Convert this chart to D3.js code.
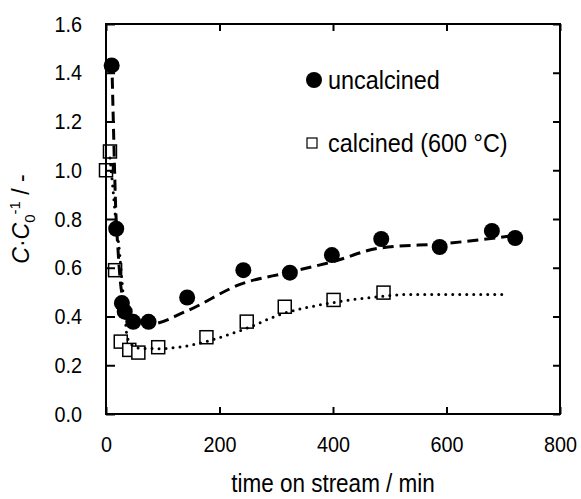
<!DOCTYPE html>
<html>
<head>
<meta charset="utf-8">
<script src="https://cdn.jsdelivr.net/npm/d3@7"></script>
<style>
  body { margin: 0; background: #fff; }
  text { font-family: "Liberation Sans", Arial, sans-serif; fill: #000; }
</style>
</head>
<body>
<div id="wrapper"></div>
<script>
// measured points [time on stream / min, C/C0]
const uncalcined = [
  [10, 1.43], [18, 0.76], [28, 0.455], [33, 0.42], [48, 0.378], [75, 0.378],
  [143, 0.478], [242, 0.59], [324, 0.58], [398, 0.652], [485, 0.718],
  [588, 0.685], [680, 0.751], [721, 0.722]
];
const calcined = [
  [0, 1.0], [7, 1.077], [16, 0.59], [26, 0.297], [41, 0.263], [57, 0.252],
  [92, 0.274], [177, 0.315], [248, 0.379], [315, 0.44], [401, 0.468], [489, 0.498]
];

// fitted curves
const uncalcinedFit = [
  [11, 1.38], [14, 1.1], [17, 0.85], [21, 0.68], [25, 0.55], [30, 0.47],
  [38, 0.41], [55, 0.375], [80, 0.37], [140, 0.42], [240, 0.535], [320, 0.58],
  [400, 0.625], [480, 0.68], [600, 0.70], [712, 0.73]
];
const calcinedFit = [
  [7, 1.05], [12, 0.93], [17, 0.8], [24, 0.66], [28, 0.55], [33, 0.42],
  [37, 0.32], [45, 0.285], [60, 0.27], [95, 0.268], [130, 0.275], [240, 0.345],
  [312, 0.412], [395, 0.455], [483, 0.482], [530, 0.49], [700, 0.49]
];

const xTicks = [0, 200, 400, 600, 800];
const yTicks = [0, 0.2, 0.4, 0.6, 0.8, 1.0, 1.2, 1.4, 1.6];
const legendLabels = ["uncalcined", "calcined (600 °C)"];
const xTitle = "time on stream / min";

const xAccessor = (d) => d[0];
const yAccessor = (d) => d[1];

let dimensions = {
  width: 581,
  height: 499,
  margin: { top: 24, right: 21, bottom: 85, left: 106 }
};
dimensions.boundedWidth = dimensions.width - dimensions.margin.left - dimensions.margin.right;
dimensions.boundedHeight = dimensions.height - dimensions.margin.top - dimensions.margin.bottom;

const squeeze = 0.9; // text in the original looks horizontally narrowed

const wrapper = d3.select("#wrapper")
  .append("svg")
  .attr("width", dimensions.width)
  .attr("height", dimensions.height);

const bounds = wrapper.append("g")
  .attr("transform", `translate(${dimensions.margin.left},${dimensions.margin.top})`);

const xScale = d3.scaleLinear()
  .domain([0, 800])
  .range([0, dimensions.boundedWidth]);

const yScale = d3.scaleLinear()
  .domain([0, 1.6])
  .range([dimensions.boundedHeight, 0]);

// markers
bounds.append("g")
  .selectAll("circle")
  .data(uncalcined)
  .join("circle")
  .attr("cx", (d) => xScale(xAccessor(d)))
  .attr("cy", (d) => yScale(yAccessor(d)))
  .attr("r", 8)
  .attr("fill", "#000");

const sq = 13;
bounds.append("g")
  .selectAll("rect")
  .data(calcined)
  .join("rect")
  .attr("x", (d) => xScale(xAccessor(d)) - sq / 2)
  .attr("y", (d) => yScale(yAccessor(d)) - sq / 2)
  .attr("width", sq)
  .attr("height", sq)
  .attr("fill", "#fff")
  .attr("stroke", "#000")
  .attr("stroke-width", 1.5);

// fit lines
const lineGenerator = d3.line()
  .x((d) => xScale(xAccessor(d)))
  .y((d) => yScale(yAccessor(d)))
  .curve(d3.curveMonotoneX);

bounds.append("path")
  .attr("d", lineGenerator(uncalcinedFit))
  .attr("fill", "none")
  .attr("stroke", "#000")
  .attr("stroke-width", 3)
  .attr("stroke-dasharray", "11,6");

bounds.append("path")
  .attr("d", lineGenerator(calcinedFit))
  .attr("fill", "none")
  .attr("stroke", "#000")
  .attr("stroke-width", 3)
  .attr("stroke-linecap", "round")
  .attr("stroke-dasharray", "0,7");

// axes
const yAxis = bounds.append("g")
  .call(d3.axisLeft(yScale)
    .tickValues(yTicks)
    .tickFormat(d3.format(".1f"))
    .tickSizeInner(-9)
    .tickSizeOuter(0)
    .tickPadding(24 / squeeze));

const xAxis = bounds.append("g")
  .attr("transform", `translate(0,${dimensions.boundedHeight})`)
  .call(d3.axisBottom(xScale)
    .tickValues(xTicks)
    .tickFormat(d3.format("d"))
    .tickSizeInner(-7)
    .tickSizeOuter(0)
    .tickPadding(22));

bounds.append("g")
  .attr("transform", `translate(${dimensions.boundedWidth},0)`)
  .call(d3.axisRight(yScale).tickValues(yTicks).tickFormat("").tickSizeInner(-7).tickSizeOuter(0));

bounds.append("g")
  .call(d3.axisTop(xScale).tickValues(xTicks).tickFormat("").tickSizeInner(-7).tickSizeOuter(0));

bounds.selectAll(".domain").remove();
bounds.selectAll(".tick line").attr("stroke", "#000").attr("stroke-width", 2);
bounds.selectAll(".tick text")
  .attr("font-family", null)
  .style("font-size", "22px")
  .attr("transform", `scale(${squeeze},1)`);

bounds.append("rect")
  .attr("width", dimensions.boundedWidth)
  .attr("height", dimensions.boundedHeight)
  .attr("fill", "none")
  .attr("stroke", "#000")
  .attr("stroke-width", 2);

// axis titles
wrapper.append("text")
  .attr("transform", `translate(${dimensions.margin.left + dimensions.boundedWidth / 2},492) scale(${squeeze},1)`)
  .attr("text-anchor", "middle")
  .style("font-size", "25px")
  .text(xTitle);

const yLabel = wrapper.append("text")
  .attr("transform", `translate(29,${dimensions.margin.top + dimensions.boundedHeight / 2}) rotate(-90)`)
  .attr("text-anchor", "middle")
  .style("font-size", "23px");
yLabel.append("tspan").style("font-style", "italic").text("C");
yLabel.append("tspan").text("·");
yLabel.append("tspan").style("font-style", "italic").text("C");
yLabel.append("tspan").attr("dy", 6).style("font-size", "15px").text("0");
yLabel.append("tspan").attr("dy", -15).style("font-size", "15px").text("-1");
yLabel.append("tspan").attr("dy", 9).text(" / -");

// legend
const legend = wrapper.append("g");
legend.append("circle")
  .attr("cx", 314)
  .attr("cy", 80)
  .attr("r", 8)
  .attr("fill", "#000");
legend.append("rect")
  .attr("x", 307)
  .attr("y", 138)
  .attr("width", 10)
  .attr("height", 10)
  .attr("fill", "#fff")
  .attr("stroke", "#000")
  .attr("stroke-width", 1.2);
legend.selectAll("text.leg")
  .data(legendLabels)
  .join("text")
  .attr("class", "leg")
  .attr("transform", (d, i) => `translate(328,${89 + i * 63}) scale(${squeeze},1)`)
  .style("font-size", "26px")
  .text((d) => d);
</script>
</body>
</html>
